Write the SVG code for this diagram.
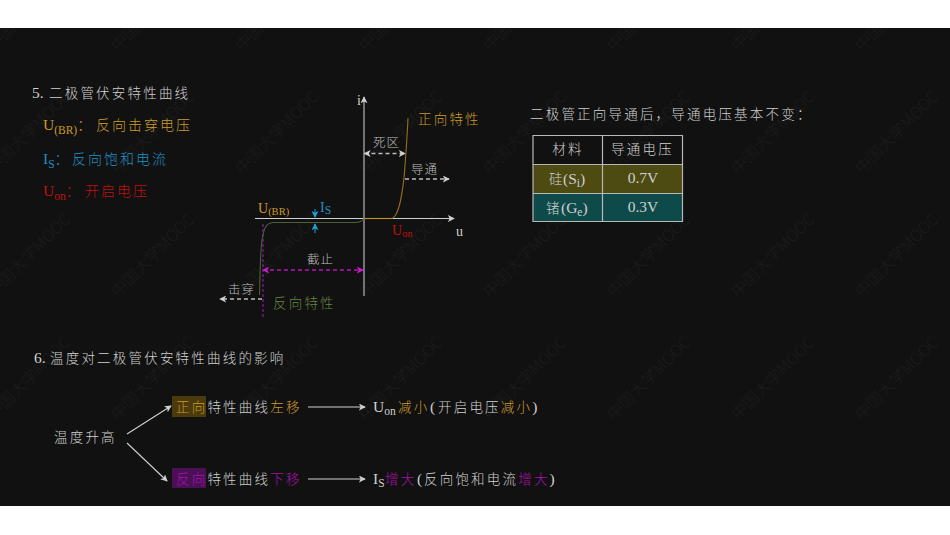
<svg xmlns="http://www.w3.org/2000/svg" width="950" height="535" viewBox="0 0 950 535">
<defs>
<style>
text{font-family:"Liberation Serif","Noto Sans CJK SC",serif;fill:#d0d0d0;font-size:13.500px;letter-spacing:2.200px;font-weight:300}
.wm{font-family:"Noto Sans CJK SC","Liberation Sans",sans-serif;fill:#1c1c1c;font-size:16px;letter-spacing:0}
.y{fill:#cc9b28}.b{fill:#2090c0}.r{fill:#c01010}.g{fill:#648540}.p{fill:#a812a8}.m{text-anchor:middle}
.t{font-size:15.500px;letter-spacing:0;font-weight:400}
.sub{font-size:11.500px;letter-spacing:0;font-weight:400}
.leg{font-size:14px;letter-spacing:2px}
.small{font-size:12.500px;letter-spacing:1px;fill:#bcbcbc}
.l{fill:none;stroke:#d0d0d0;stroke-width:1.1}
.d{fill:none;stroke:#bcbcbc;stroke-width:1.300;stroke-dasharray:4 3}
.mg{fill:none;stroke:#b814b8;stroke-width:1.300;stroke-dasharray:4 3}
.bl{fill:none;stroke:#20a0d8;stroke-width:1}
</style>
<marker id="a" viewBox="0 0 8 8" refX="7" refY="4" markerWidth="7" markerHeight="7" orient="auto-start-reverse" markerUnits="userSpaceOnUse"><path d="M0 0L8 4L0 8L2 4Z" fill="#d0d0d0"/></marker>
<marker id="am" viewBox="0 0 8 8" refX="7" refY="4" markerWidth="7" markerHeight="7" orient="auto-start-reverse" markerUnits="userSpaceOnUse"><path d="M0 0L8 4L0 8L2 4Z" fill="#d018d0"/></marker>
<marker id="ab" viewBox="0 0 8 8" refX="7" refY="4" markerWidth="7" markerHeight="7" orient="auto" markerUnits="userSpaceOnUse"><path d="M0 0L8 4L0 8L2 4Z" fill="#20a0d8"/></marker>
<clipPath id="c"><rect y="28" width="950" height="478"/></clipPath>
<g id="w"><text class="wm" transform="rotate(-45)">中国大学MOOC</text></g>
</defs>
<rect width="950" height="535" fill="#fff"/>
<rect y="28" width="950" height="478" fill="#111111"/>
<g id="watermarks" clip-path="url(#c)">
<use href="#w" x="-6" y="52"/><use href="#w" x="118" y="52"/><use href="#w" x="242" y="52"/><use href="#w" x="366" y="52"/><use href="#w" x="490" y="52"/><use href="#w" x="614" y="52"/><use href="#w" x="738" y="52"/><use href="#w" x="862" y="52"/>
<use href="#w" x="-6" y="175"/><use href="#w" x="118" y="175"/><use href="#w" x="242" y="175"/><use href="#w" x="366" y="175"/><use href="#w" x="490" y="175"/><use href="#w" x="614" y="175"/><use href="#w" x="738" y="175"/><use href="#w" x="862" y="175"/>
<use href="#w" x="-6" y="298"/><use href="#w" x="118" y="298"/><use href="#w" x="242" y="298"/><use href="#w" x="366" y="298"/><use href="#w" x="490" y="298"/><use href="#w" x="614" y="298"/><use href="#w" x="738" y="298"/><use href="#w" x="862" y="298"/>
<use href="#w" x="-6" y="421"/><use href="#w" x="118" y="421"/><use href="#w" x="242" y="421"/><use href="#w" x="366" y="421"/><use href="#w" x="490" y="421"/><use href="#w" x="614" y="421"/><use href="#w" x="738" y="421"/><use href="#w" x="862" y="421"/>
</g>
<g id="legend">
<text x="32" y="98"><tspan class="t">5.</tspan><tspan x="49">二极管伏安特性曲线</tspan></text>
<text x="43" y="130" class="y leg"><tspan class="y t">U</tspan><tspan class="y sub" dy="4">(BR)</tspan><tspan class="y" dy="-4">：</tspan><tspan class="y" x="96">反向击穿电压</tspan></text>
<text x="43" y="164" class="b leg"><tspan class="b t">I</tspan><tspan class="b sub" dy="4">S</tspan><tspan class="b" dy="-4">：</tspan><tspan class="b" x="72">反向饱和电流</tspan></text>
<text x="43" y="196" class="r leg"><tspan class="r t">U</tspan><tspan class="r sub" dy="4">on</tspan><tspan class="r" dy="-4">：</tspan><tspan class="r" x="85">开启电压</tspan></text>
</g>
<g id="connectors">
<path class="l" style="stroke:#8c8c8c;stroke-width:1.600" d="M364 296V97" marker-end="url(#a)"/>
<path class="l" d="M255 218.500H454" marker-end="url(#a)"/>
<path class="d" d="M364.500 153.500H405" marker-start="url(#a)" marker-end="url(#a)"/>
<path class="d" d="M405 179H449" marker-end="url(#a)"/>
<path class="d" d="M262 299H220" marker-end="url(#a)"/>
<path class="mg" d="M263 270H363" marker-start="url(#am)" marker-end="url(#am)"/>
<path d="M263 224V318" fill="none" stroke="#8c1c9c" stroke-width="1.200" stroke-dasharray="3 2"/>
<path class="bl" d="M315 209V217" marker-end="url(#ab)"/>
<path class="bl" d="M315 233V224" marker-end="url(#ab)"/>
<path d="M392 218.500C399 216 402 195 404 178C405.500 160 407 140 408 118" fill="none" stroke="#94701c" stroke-width="1.100"/>
<path d="M364 218.500H392" fill="none" stroke="#c8961e" stroke-width="1.100"/>
<path d="M364 218.500C362 221.500 360 222.500 355 222.500H274C266 222.500 264 228 262 240C260 254 260 280 259.500 295" fill="none" stroke="#4c6036" stroke-width="1.100"/>
<path class="l" d="M127 434L171 406" marker-end="url(#a)"/>
<path class="l" d="M127 443L167 481" marker-end="url(#a)"/>
<path class="l" d="M308 407H365" marker-end="url(#a)"/>
<path class="l" d="M308 479H365" marker-end="url(#a)"/>
</g>
<g id="curve-labels">
<text x="418" y="124" class="y">正向特性</text>
<text x="373" y="147" class="small">死区</text>
<text x="411" y="174" class="small">导通</text>
<text x="258" y="213" class="y t" style="font-size:14px">U<tspan class="y sub" dy="2" style="font-size:10.500px">(BR)</tspan></text>
<text x="320" y="212" class="b t" style="font-size:14px">I<tspan class="b sub" dy="2">S</tspan></text>
<text x="392" y="235" class="r t" style="font-size:14px">U<tspan class="r sub" dy="2" style="font-size:10.500px">on</tspan></text>
<text x="456" y="236" class="t" style="font-size:14px">u</text>
<text x="357" y="105" class="t" style="font-size:14px">i</text>
<text x="307" y="264" class="small">截止</text>
<text x="228" y="294" class="small">击穿</text>
<text x="273" y="308" class="g">反向特性</text>
</g>
<g id="table">
<text x="530" y="119">二极管正向导通后，导通电压基本不变：</text>
<rect x="533" y="164" width="149" height="29" fill="#4d4a12"/>
<rect x="533" y="193" width="149" height="29" fill="#0e4a4a"/>
<path d="M533 135.500H682.500V221.500H533ZM533 164.500H682.500M533 193.500H682.500M602.500 135.500V221.500" fill="none" stroke="#b8b8b8" stroke-width="1.200"/>
<text x="568" y="154" class="m">材料</text>
<text x="642.500" y="154" class="m">导通电压</text>
<text x="549" y="184">硅<tspan class="t" x="563">(S</tspan><tspan class="sub" dy="3">i</tspan><tspan class="t" dy="-3">)</tspan></text>
<text x="643" y="183" class="m t">0.7V</text>
<text x="546" y="213">锗<tspan class="t" x="561">(G</tspan><tspan class="sub" dy="3">e</tspan><tspan class="t" dy="-3">)</tspan></text>
<text x="643" y="212" class="m t">0.3V</text>
</g>
<g id="temperature">
<text x="34" y="363"><tspan class="t">6.</tspan><tspan x="50">温度对二极管伏安特性曲线的影响</tspan></text>
<text x="54" y="442">温度升高</text>
<rect x="172" y="396" width="34" height="21" fill="#4a3a0c"/>
<rect x="172" y="468" width="34" height="20" fill="#4a1056"/>
<text x="176" y="412"><tspan class="y">正向</tspan>特性曲线<tspan class="y">左移</tspan></text>
<text x="176" y="484"><tspan class="p">反向</tspan>特性曲线<tspan class="p">下移</tspan></text>
<text x="373" y="412"><tspan class="t">U</tspan><tspan class="sub" dy="3">on</tspan><tspan class="y" dy="-3" x="398">减小</tspan><tspan class="t" x="430">(</tspan><tspan x="438">开启电压</tspan><tspan class="y">减小</tspan><tspan class="t">)</tspan></text>
<text x="373" y="484"><tspan class="t">I</tspan><tspan class="sub" dy="3">S</tspan><tspan class="p" dy="-3" x="385">增大</tspan><tspan class="t" x="417">(</tspan><tspan x="424">反向饱和电流</tspan><tspan class="p">增大</tspan><tspan class="t">)</tspan></text>
</g>
</svg>
